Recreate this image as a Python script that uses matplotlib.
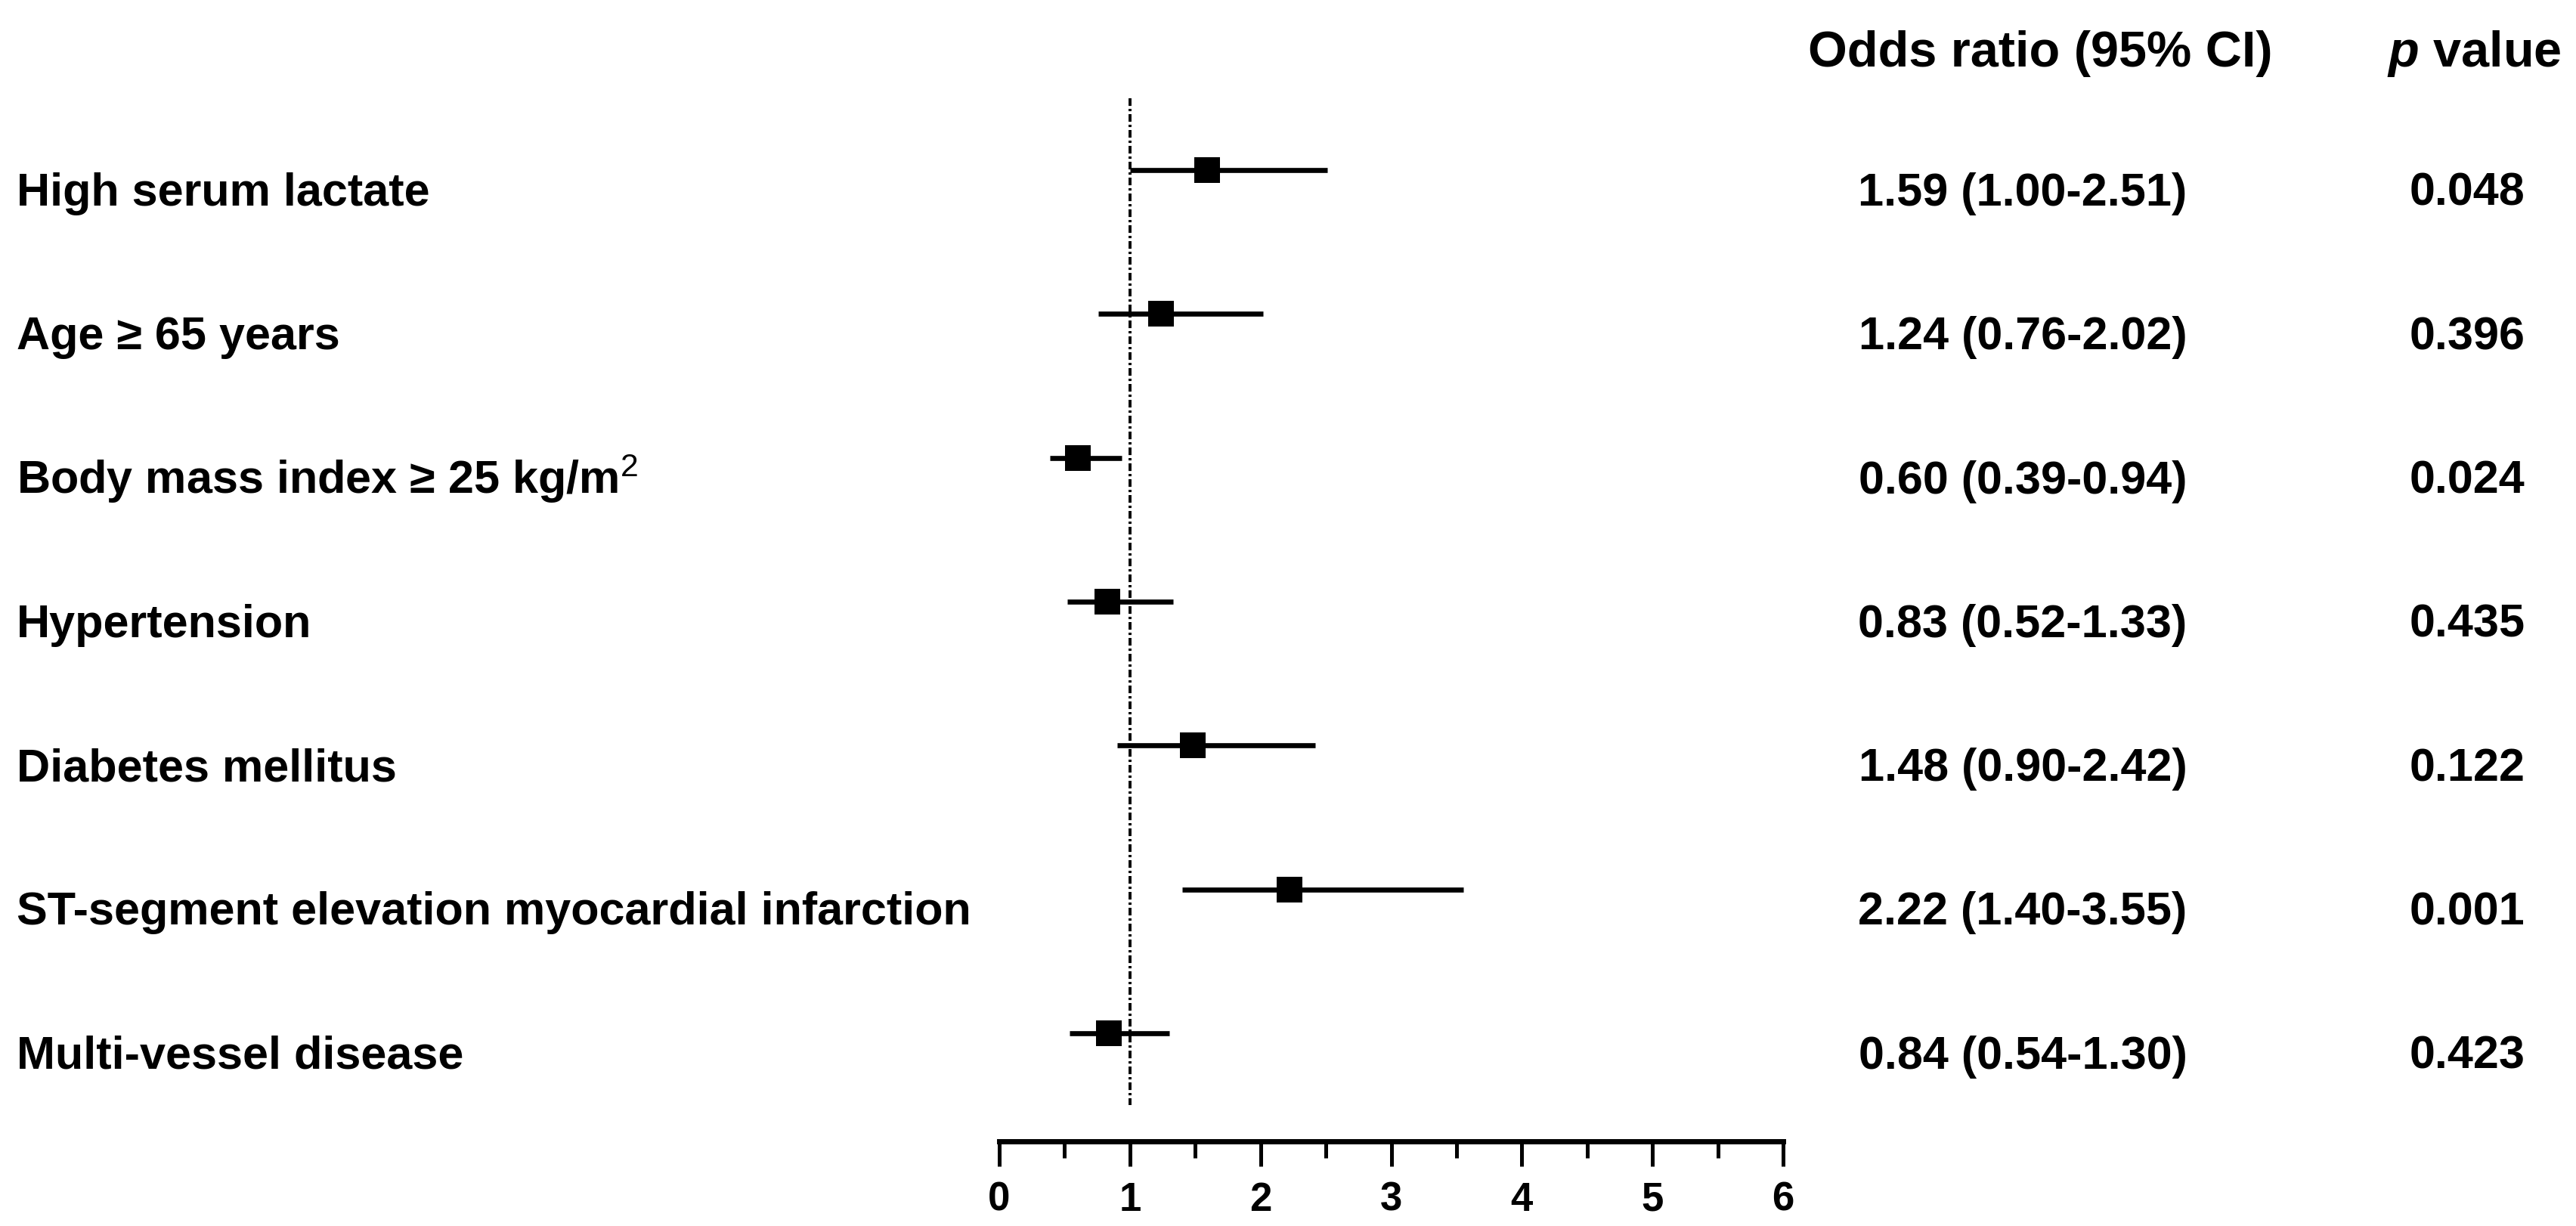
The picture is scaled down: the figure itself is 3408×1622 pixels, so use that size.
import matplotlib
matplotlib.use("Agg")
import matplotlib.pyplot as plt
import matplotlib.transforms as mtransforms
from matplotlib.ticker import MultipleLocator

plt.rcParams['font.family'] = ['Liberation Sans', 'DejaVu Sans']
plt.rcParams['mathtext.fontset'] = 'custom'
plt.rcParams['mathtext.rm'] = 'Liberation Sans'
plt.rcParams['mathtext.it'] = 'Liberation Sans:bold:italic'
plt.rcParams['mathtext.bf'] = 'Liberation Sans:bold'

labels = ["High serum lactate", "Age \u2265 65 years", "Body mass index \u2265 25 kg/m$^{2}$",
          "Hypertension", "Diabetes mellitus",
          "ST-segment elevation myocardial infarction", "Multi-vessel disease"]
odds = [1.59, 1.24, 0.60, 0.83, 1.48, 2.22, 0.84]
ci_low = [1.00, 0.76, 0.39, 0.52, 0.90, 1.40, 0.54]
ci_high = [2.51, 2.02, 0.94, 1.33, 2.42, 3.55, 1.30]
pvals = ["0.048", "0.396", "0.024", "0.435", "0.122", "0.001", "0.423"]
xticks = [0, 1, 2, 3, 4, 5, 6]
header_or = "Odds ratio (95% CI)"
header_p = "$p$ value"

W, H = 3408, 1622
dpi = 200
fig = plt.figure(figsize=(W / dpi, H / dpi), dpi=dpi)

# axes placement (pixel-based)
x0, x1 = 1322, 2359
ytop, ybot = 100, 1510
ax = fig.add_axes([x0 / W, 1 - ybot / H, (x1 - x0) / W, (ybot - ytop) / H])
row0, rowstep = 225, 190.3
ax.set_xlim(0, 6)
ax.set_ylim((ybot - row0) / rowstep, (ytop - row0) / rowstep)

n = len(labels)
ys = list(range(n))
# reference line at OR = 1
ax.plot([1, 1], [-0.5, n - 0.5], color='black', linewidth=1.4,
        dashes=(2.6, 1.0, 0.8, 1.0))
for y, lo, hi in zip(ys, ci_low, ci_high):
    ax.plot([lo, hi], [y, y], color='black', linewidth=2.4, solid_capstyle='butt')
ax.plot(odds, ys, linestyle='none', marker='s', markersize=12, markeredgewidth=0,
        color='black')

for s in ['top', 'right', 'left']:
    ax.spines[s].set_visible(False)
ax.spines['bottom'].set_linewidth(2.5)
ax.spines['bottom'].set_capstyle('projecting')
ax.set_yticks([])
ax.set_xticks(xticks)
ax.xaxis.set_minor_locator(MultipleLocator(0.5))
ax.tick_params(axis='x', which='major', length=12, width=1.8, direction='out', pad=7,
               labelsize=19)
ax.tick_params(axis='x', which='minor', length=8, width=1.8, direction='out')
for t in ax.get_xticklabels():
    t.set_fontweight('bold')

trans = mtransforms.blended_transform_factory(fig.transFigure, ax.transData)
fs = 22
off = (272 - 225) / rowstep
for y, lab, o, lo, hi, p in zip(ys, labels, odds, ci_low, ci_high, pvals):
    ax.text(22 / W, y + off, lab, transform=trans, ha='left', va='baseline', fontsize=fs,
            fontweight='bold', clip_on=False)
    ax.text(2676 / W, y + off, f"{o:.2f} ({lo:.2f}-{hi:.2f})", transform=trans,
            ha='center', va='baseline', fontsize=fs, fontweight='bold', clip_on=False)
    ax.text(3264 / W, y + off, p, transform=trans, ha='center', va='baseline',
            fontsize=fs, fontweight='bold', clip_on=False)

fig.text(2699 / W, 1 - 88 / H, header_or, ha='center', va='baseline',
         fontsize=24, fontweight='bold')
fig.text(3273 / W, 1 - 88 / H, header_p, ha='center', va='baseline',
         fontsize=24, fontweight='bold')

fig.savefig("out.png", dpi=dpi, facecolor='white')
